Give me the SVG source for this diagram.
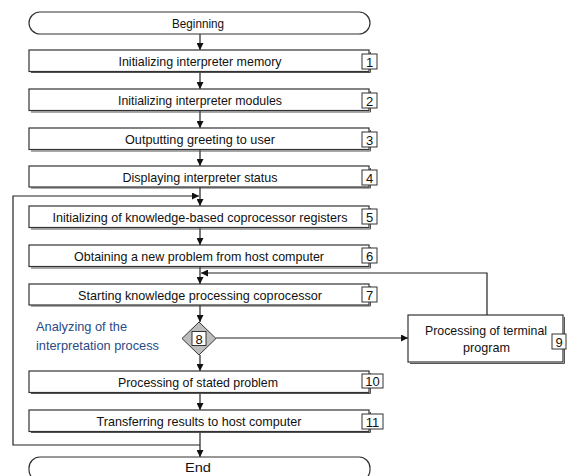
<svg xmlns="http://www.w3.org/2000/svg" width="574" height="476" viewBox="0 0 574 476">
<style>
.box{fill:#fff;stroke:#333;stroke-width:1.2}
.sh{fill:none;stroke:#555;stroke-width:1}
.num{fill:#fff;stroke:#333;stroke-width:1}
.t{font-family:"Liberation Sans",Arial,sans-serif;font-size:13.5px;fill:#111;text-anchor:middle}
.n{font-family:"Liberation Sans",Arial,sans-serif;font-size:13px;fill:#111;text-anchor:middle}
.blue{font-family:"Liberation Sans",Arial,sans-serif;font-size:13.5px;fill:#2a4a86}
.ln{fill:none;stroke:#222;stroke-width:1.2}
</style>
<defs>
<marker id="ar" viewBox="0 0 8 8" refX="8" refY="4" markerWidth="7" markerHeight="7" markerUnits="userSpaceOnUse" orient="auto">
<path d="M0,0 L8,4 L0,8 z" fill="#111"/>
</marker>
</defs>
<rect width="574" height="476" fill="#fff"/>
<g id="connectors">
<line class="ln" x1="200" y1="34" x2="200" y2="50" marker-end="url(#ar)"/>
<line class="ln" x1="200" y1="72" x2="200" y2="89" marker-end="url(#ar)"/>
<line class="ln" x1="200" y1="111" x2="200" y2="128" marker-end="url(#ar)"/>
<line class="ln" x1="200" y1="150" x2="200" y2="166" marker-end="url(#ar)"/>
<line class="ln" x1="200" y1="187" x2="200" y2="206" marker-end="url(#ar)"/>
<line class="ln" x1="200" y1="228" x2="200" y2="245" marker-end="url(#ar)"/>
<line class="ln" x1="200" y1="267" x2="200" y2="284" marker-end="url(#ar)"/>
<line class="ln" x1="200" y1="305" x2="200" y2="322" marker-end="url(#ar)"/>
<line class="ln" x1="200" y1="355" x2="200" y2="371" marker-end="url(#ar)"/>
<line class="ln" x1="200" y1="392" x2="200" y2="410" marker-end="url(#ar)"/>
<line class="ln" x1="200" y1="431" x2="200" y2="457" marker-end="url(#ar)"/>
<polyline class="ln" points="200,445 13,445 13,196 199,196" marker-end="url(#ar)"/>
<polyline class="ln" points="487,315 487,273 201,273" marker-end="url(#ar)"/>
<line class="ln" x1="216" y1="338" x2="408" y2="338" marker-end="url(#ar)"/>
</g>
<g id="n0">
<rect class="box" x="29" y="12" width="341" height="22" rx="11"/>
<text class="t" x="198" y="28" textLength="52" lengthAdjust="spacingAndGlyphs">Beginning</text>
</g>
<g id="n1">
<polyline class="sh" points="31,72.5 370.5,72.5 370.5,52"/>
<rect class="box" x="29" y="50" width="340" height="21.5"/>
<text class="t" x="200" y="65.5" textLength="163" lengthAdjust="spacingAndGlyphs">Initializing interpreter memory</text>
<rect class="num" x="362" y="54" width="15" height="15"/>
<text class="n" x="369.5" y="66.5">1</text>
</g>
<g id="n2">
<polyline class="sh" points="31,112 370.5,112 370.5,91"/>
<rect class="box" x="29" y="89" width="340" height="21.5"/>
<text class="t" x="200" y="104.5" textLength="164" lengthAdjust="spacingAndGlyphs">Initializing interpreter modules</text>
<rect class="num" x="362" y="93" width="15" height="15"/>
<text class="n" x="369.5" y="105.5">2</text>
</g>
<g id="n3">
<polyline class="sh" points="31,151 370.5,151 370.5,130"/>
<rect class="box" x="29" y="128" width="340" height="21.5"/>
<text class="t" x="200" y="143.5" textLength="150" lengthAdjust="spacingAndGlyphs">Outputting greeting to user</text>
<rect class="num" x="362" y="132" width="15" height="15"/>
<text class="n" x="369.5" y="144.5">3</text>
</g>
<g id="n4">
<polyline class="sh" points="31,188 370.5,188 370.5,168"/>
<rect class="box" x="29" y="166" width="340" height="21"/>
<text class="t" x="200" y="181.5" textLength="155" lengthAdjust="spacingAndGlyphs">Displaying interpreter status</text>
<rect class="num" x="362" y="170" width="15" height="15"/>
<text class="n" x="369.5" y="182.5">4</text>
</g>
<g id="n5">
<polyline class="sh" points="31,229 370.5,229 370.5,208"/>
<rect class="box" x="29" y="206" width="340" height="21.5"/>
<text class="t" x="200" y="221.5" style="font-size:12.4px" textLength="295" lengthAdjust="spacingAndGlyphs">Initializing of knowledge-based coprocessor registers</text>
<rect class="num" x="362" y="209" width="15" height="15"/>
<text class="n" x="369.5" y="221.5">5</text>
</g>
<g id="n6">
<polyline class="sh" points="31,268 370.5,268 370.5,247"/>
<rect class="box" x="29" y="245" width="340" height="21.5"/>
<text class="t" x="199" y="260.5" textLength="250" lengthAdjust="spacingAndGlyphs">Obtaining a new problem from host computer</text>
<rect class="num" x="362" y="248" width="15" height="15"/>
<text class="n" x="369.5" y="260.5">6</text>
</g>
<g id="n7">
<polyline class="sh" points="31,306 370.5,306 370.5,286"/>
<rect class="box" x="29" y="284" width="340" height="21"/>
<text class="t" x="200" y="299.5" textLength="244" lengthAdjust="spacingAndGlyphs">Starting knowledge processing coprocessor</text>
<rect class="num" x="362" y="287" width="15" height="15"/>
<text class="n" x="369.5" y="299.5">7</text>
</g>
<g id="n8">
<path d="M199,322 L216,338.5 L199,355 L182,338.5 z" fill="#bdbdbd" stroke="#333" stroke-width="1"/>
<rect class="num" x="192" y="331.5" width="14" height="14"/>
<text class="n" x="199" y="343.5">8</text>
<text class="blue" x="36" y="330.5" textLength="91" lengthAdjust="spacingAndGlyphs">Analyzing of the</text>
<text class="blue" x="36" y="349.5" textLength="123" lengthAdjust="spacingAndGlyphs">interpretation process</text>
</g>
<g id="n9">
<polyline class="sh" points="410,363.5 564.5,363.5 564.5,317"/>
<rect class="box" x="408" y="315" width="155" height="47" stroke-width="1.5"/>
<text class="t" x="486" y="334.5" textLength="122" lengthAdjust="spacingAndGlyphs">Processing of terminal</text>
<text class="t" x="486.5" y="351.5" textLength="47" lengthAdjust="spacingAndGlyphs">program</text>
<rect class="num" x="552" y="334" width="14" height="15"/>
<text class="n" x="559" y="346.5">9</text>
</g>
<g id="n10">
<polyline class="sh" points="31,393.5 370.5,393.5 370.5,373"/>
<rect class="box" x="29" y="371" width="340" height="21.5"/>
<text class="t" x="198" y="386.5" textLength="160" lengthAdjust="spacingAndGlyphs">Processing of stated problem</text>
<rect class="num" x="362" y="374" width="21" height="14"/>
<text class="n" x="372.5" y="386">10</text>
</g>
<g id="n11">
<polyline class="sh" points="31,432.5 370.5,432.5 370.5,412"/>
<rect class="box" x="29" y="410" width="340" height="21.5"/>
<text class="t" x="199" y="425.5" textLength="205" lengthAdjust="spacingAndGlyphs">Transferring results to host computer</text>
<rect class="num" x="362" y="414" width="21" height="15"/>
<text class="n" x="372.5" y="426.5">11</text>
</g>
<g id="n12">
<rect class="box" x="29" y="457" width="341" height="24" rx="11"/>
<text class="t" x="198" y="471.5" textLength="26" lengthAdjust="spacingAndGlyphs">End</text>
</g>
</svg>
